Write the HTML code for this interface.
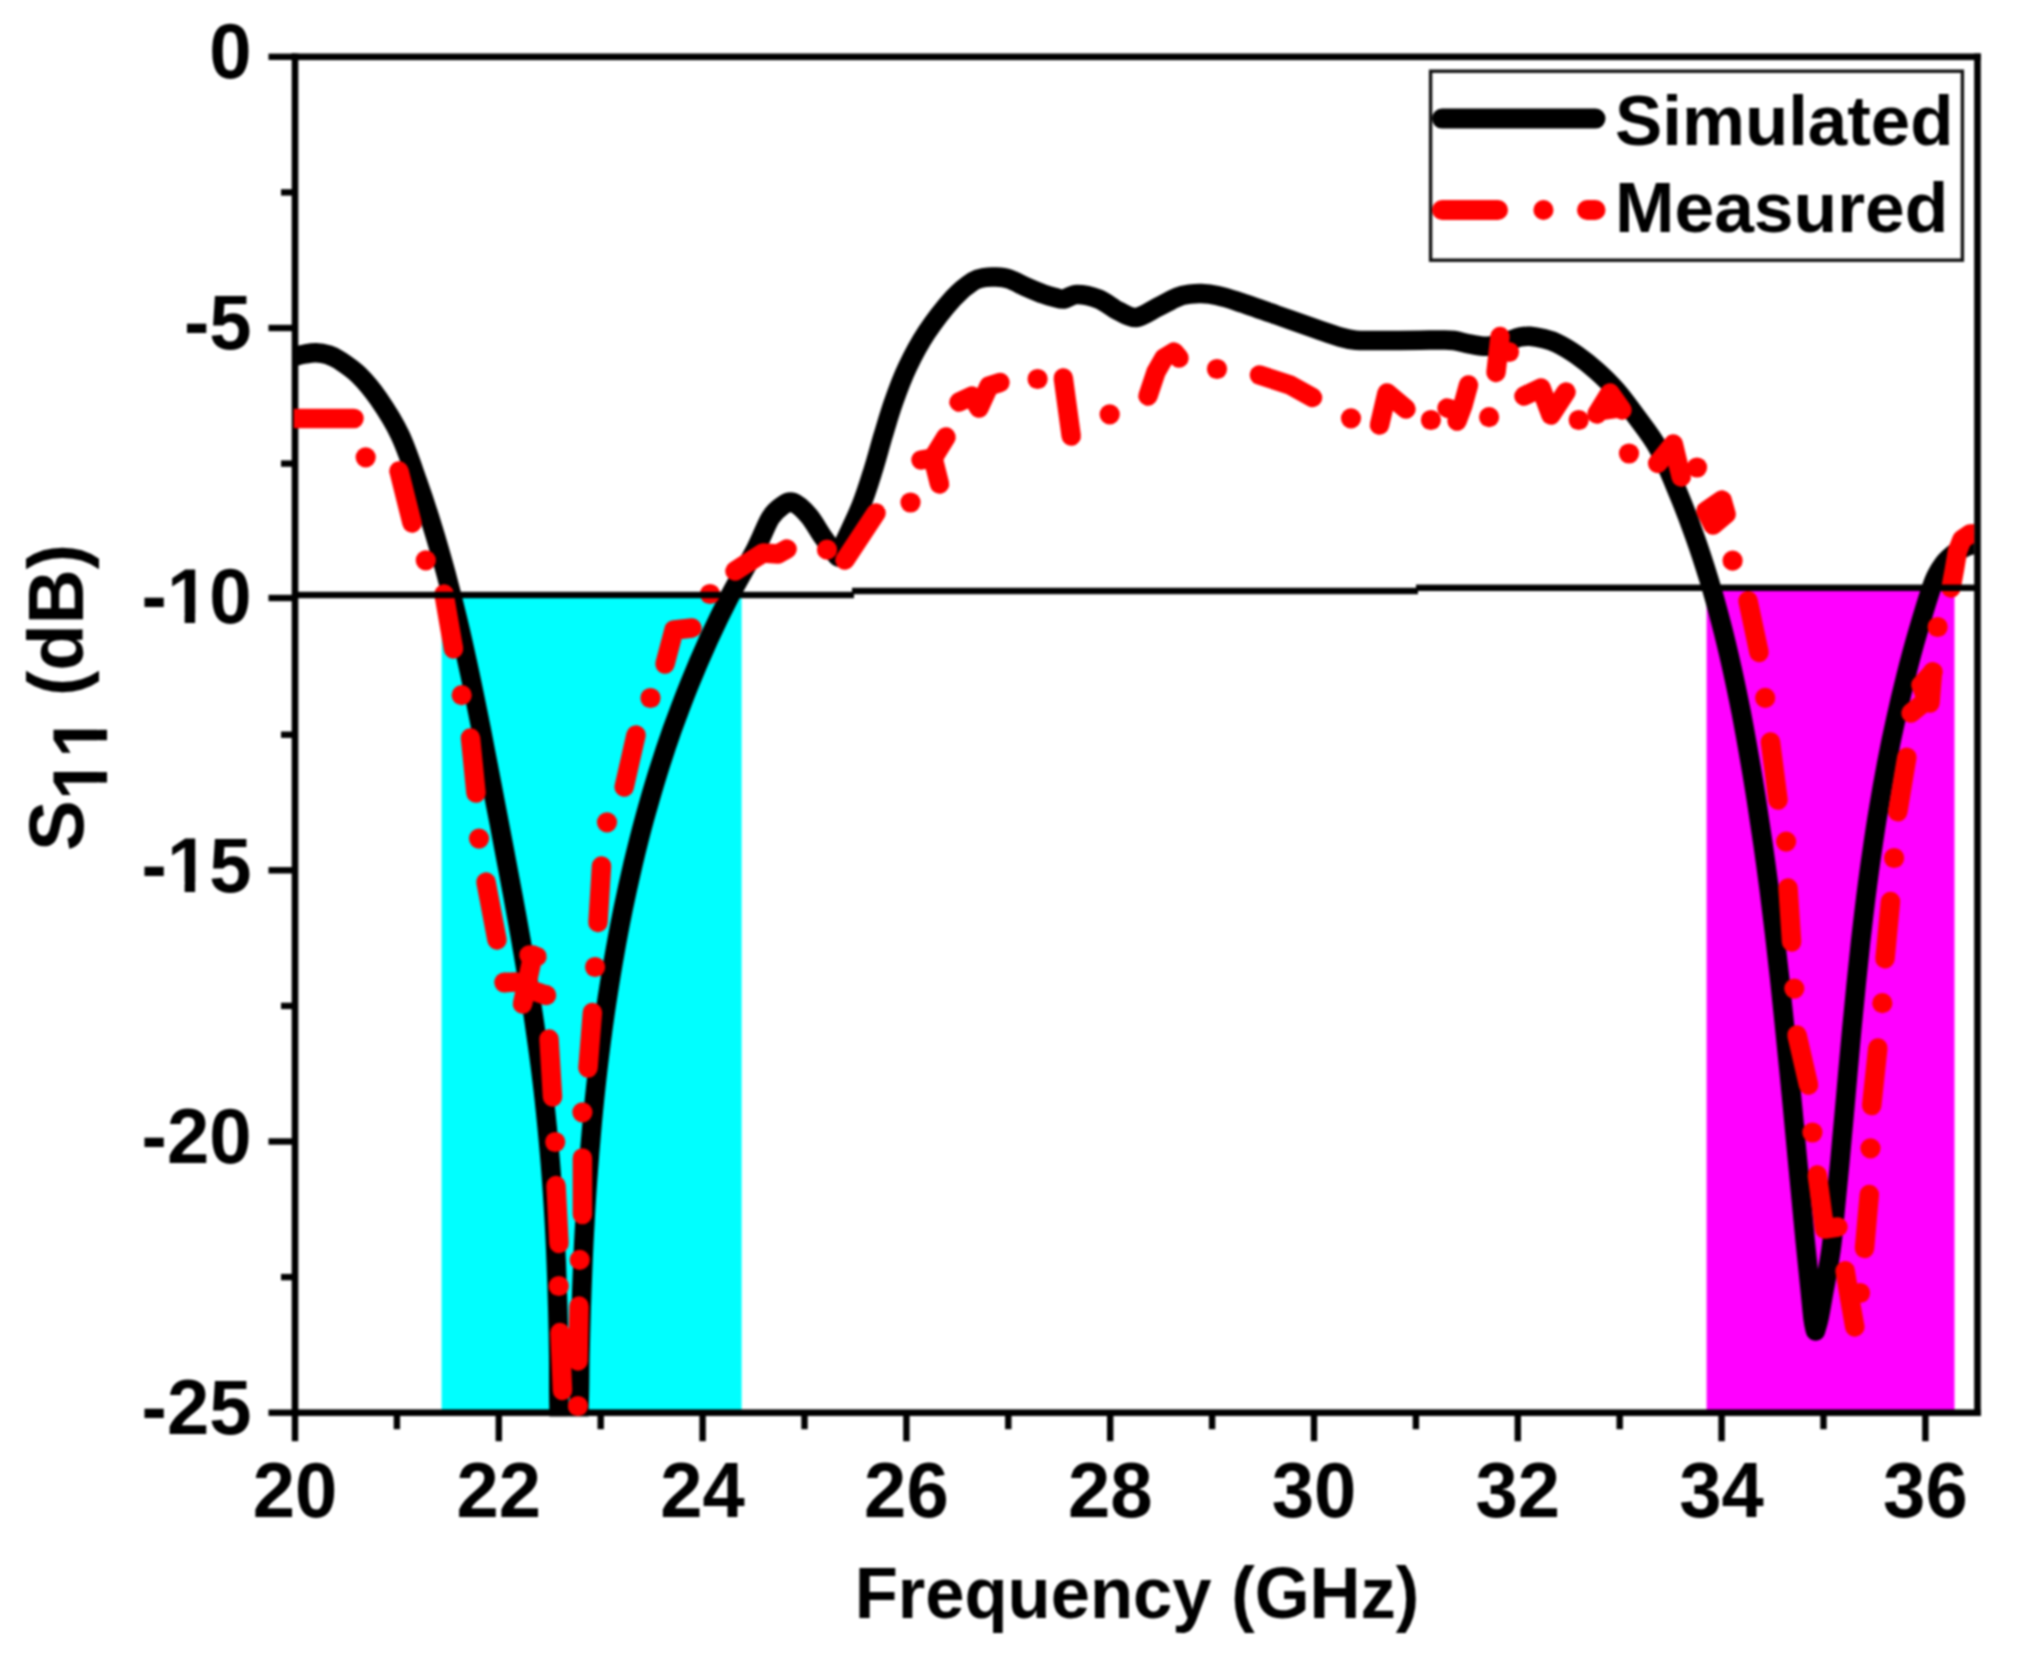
<!DOCTYPE html>
<html lang="en"><head><meta charset="utf-8"><title>S11 simulated vs measured</title>
<style>html,body{margin:0;padding:0;background:#fff}body{width:2030px;height:1653px;overflow:hidden}svg{display:block;filter:blur(0.8px)}</style></head>
<body>
<svg width="2030" height="1653" viewBox="0 0 2030 1653">
<defs><clipPath id="plot"><rect x="293.8" y="60.1" width="1680.4" height="1356.5"/></clipPath></defs>
<rect width="2030" height="1653" fill="#fff"/>
<rect x="441.6" y="596.5" width="300.0" height="816.2" fill="#00ffff"/>
<rect x="1706.6" y="590.5" width="247.9" height="822.2" fill="#ff00ff"/>
<g fill="#000">
<rect x="291.7" y="53.5" width="1689.1" height="6.6"/>
<rect x="291.7" y="1409.4" width="1689.1" height="6.6"/>
<rect x="291.7" y="53.5" width="6.6" height="1362.5"/>
<rect x="1974.2" y="53.5" width="6.6" height="1362.5"/>
<rect x="291.8" y="1412.7" width="6.4" height="28.5"/>
<rect x="393.7" y="1412.7" width="6.4" height="16.5"/>
<rect x="495.6" y="1412.7" width="6.4" height="28.5"/>
<rect x="597.5" y="1412.7" width="6.4" height="16.5"/>
<rect x="699.4" y="1412.7" width="6.4" height="28.5"/>
<rect x="801.3" y="1412.7" width="6.4" height="16.5"/>
<rect x="903.2" y="1412.7" width="6.4" height="28.5"/>
<rect x="1005.1" y="1412.7" width="6.4" height="16.5"/>
<rect x="1107.0" y="1412.7" width="6.4" height="28.5"/>
<rect x="1208.9" y="1412.7" width="6.4" height="16.5"/>
<rect x="1310.8" y="1412.7" width="6.4" height="28.5"/>
<rect x="1412.7" y="1412.7" width="6.4" height="16.5"/>
<rect x="1514.6" y="1412.7" width="6.4" height="28.5"/>
<rect x="1616.5" y="1412.7" width="6.4" height="16.5"/>
<rect x="1718.4" y="1412.7" width="6.4" height="28.5"/>
<rect x="1820.3" y="1412.7" width="6.4" height="16.5"/>
<rect x="1922.2" y="1412.7" width="6.4" height="28.5"/>
<rect x="268.5" y="53.6" width="26.5" height="6.4"/>
<rect x="281.0" y="189.2" width="14.0" height="6.4"/>
<rect x="268.5" y="324.8" width="26.5" height="6.4"/>
<rect x="281.0" y="460.4" width="14.0" height="6.4"/>
<rect x="268.5" y="594.8" width="26.5" height="6.4"/>
<rect x="281.0" y="731.5" width="14.0" height="6.4"/>
<rect x="268.5" y="867.1" width="26.5" height="6.4"/>
<rect x="281.0" y="1002.7" width="14.0" height="6.4"/>
<rect x="268.5" y="1138.3" width="26.5" height="6.4"/>
<rect x="281.0" y="1273.9" width="14.0" height="6.4"/>
<rect x="268.5" y="1409.5" width="26.5" height="6.4"/>
</g>
<g clip-path="url(#plot)" fill="none" stroke-linecap="round" stroke-linejoin="round">
<path d="M283.0 360.0 C285.0 359.4 291.3 357.3 295.0 356.3 C298.7 355.3 301.5 354.6 305.0 354.0 C308.5 353.4 312.2 352.7 316.0 352.8 C319.8 352.9 324.2 353.6 328.0 354.8 C331.8 356.0 333.9 356.6 339.0 360.0 C344.1 363.4 352.2 368.5 358.8 375.0 C365.4 381.5 371.6 388.8 378.5 398.8 C385.4 408.8 393.5 421.3 400.0 435.0 C406.5 448.7 412.0 465.7 417.4 481.0 C422.9 496.4 427.9 511.7 432.6 527.1 C437.3 542.4 441.7 557.8 445.9 573.1 C450.0 588.5 453.9 603.8 457.6 619.2 C461.3 634.5 464.7 649.9 468.0 665.2 C471.4 680.6 474.5 695.9 477.6 711.3 C480.7 726.6 483.7 742.0 486.6 757.3 C489.6 772.7 492.5 788.0 495.4 803.4 C498.4 818.7 501.3 834.1 504.2 849.4 C507.1 864.8 510.0 880.1 512.9 895.5 C515.7 910.8 518.5 926.2 521.2 941.5 C523.8 956.9 526.5 972.2 528.9 987.6 C531.4 1002.9 533.8 1018.3 535.9 1033.6 C538.1 1049.0 540.2 1064.3 542.0 1079.7 C543.9 1095.0 545.5 1110.4 547.0 1125.7 C548.5 1141.1 549.9 1156.4 551.0 1171.8 C552.2 1187.1 553.2 1202.5 554.1 1217.8 C555.0 1233.2 555.7 1248.5 556.3 1263.9 C556.9 1279.2 557.4 1294.6 557.8 1309.9 C558.2 1325.3 558.5 1340.6 558.7 1356.0 C558.8 1371.3 558.6 1384.7 558.9 1402.0 C559.3 1419.3 559.3 1443.7 561.0 1460.0 C562.7 1476.3 566.3 1500.0 569.0 1500.0 C571.7 1500.0 575.3 1476.3 577.0 1460.0 C578.7 1443.7 578.7 1419.1 579.2 1402.0 C579.7 1384.9 579.6 1372.1 579.9 1357.1 C580.3 1342.2 580.6 1327.2 581.1 1312.3 C581.5 1297.3 582.1 1282.4 582.7 1267.4 C583.3 1252.5 584.0 1237.5 584.9 1222.6 C585.7 1207.6 586.6 1192.7 587.7 1177.7 C588.8 1162.8 590.0 1147.8 591.3 1132.9 C592.6 1117.9 594.1 1102.9 595.7 1088.0 C597.3 1073.0 599.1 1058.1 601.0 1043.1 C602.9 1028.2 605.0 1013.2 607.3 998.3 C609.6 983.3 612.0 968.4 614.7 953.4 C617.3 938.5 620.2 923.5 623.2 908.6 C626.3 893.6 629.6 878.7 633.1 863.7 C636.7 848.8 640.4 833.8 644.5 818.8 C648.6 803.9 652.9 788.9 657.5 774.0 C662.2 759.0 667.1 744.1 672.4 729.1 C677.8 714.2 683.4 699.2 689.4 684.3 C695.5 669.3 701.9 654.4 708.7 639.4 C715.6 624.5 722.9 609.5 730.6 594.6 C738.4 579.6 748.8 562.4 755.4 549.7 C762.0 537.0 765.8 525.6 770.2 518.3 C774.6 511.0 778.2 508.6 782.0 506.0 C785.8 503.4 788.7 500.9 793.2 502.5 C797.7 504.1 803.9 510.0 808.9 515.9 C813.9 521.8 818.5 530.8 823.4 537.6 C828.2 544.5 835.6 553.8 838.0 557.0 C839.3 554.2 841.7 548.6 845.5 540.0 C849.4 531.4 856.6 517.0 861.2 505.4 C865.8 493.9 869.3 482.4 872.9 470.9 C876.5 459.4 879.5 447.8 882.9 436.3 C886.4 424.8 889.6 413.3 893.7 401.8 C897.7 390.3 901.9 378.7 907.4 367.2 C912.9 355.7 918.9 344.2 926.5 332.7 C934.2 321.1 945.5 306.7 953.3 298.1 C961.1 289.5 968.1 284.5 973.4 281.1 C978.7 277.7 981.4 278.2 985.0 277.5 C988.6 276.8 991.2 276.8 995.2 277.0 C999.2 277.2 1003.8 277.3 1009.0 279.0 C1014.2 280.7 1020.9 284.7 1026.7 287.2 C1032.5 289.7 1038.9 292.5 1043.6 294.2 C1048.3 295.9 1051.6 296.7 1055.0 297.5 C1058.4 298.3 1060.3 299.5 1064.0 299.0 C1067.7 298.5 1071.2 294.5 1077.0 294.5 C1082.8 294.5 1091.9 296.4 1098.8 299.1 C1105.7 301.9 1112.2 307.9 1118.5 311.0 C1124.8 314.1 1129.7 318.2 1136.3 317.5 C1142.9 316.8 1151.1 310.4 1158.0 307.0 C1164.9 303.6 1172.3 299.2 1177.6 297.1 C1182.9 295.0 1186.0 294.8 1190.0 294.2 C1194.0 293.6 1196.8 293.3 1201.3 293.5 C1205.8 293.7 1211.1 294.2 1217.0 295.5 C1222.9 296.8 1226.8 297.9 1236.7 301.1 C1246.6 304.3 1263.1 310.3 1276.2 314.9 C1289.3 319.5 1305.0 325.0 1315.6 328.7 C1326.2 332.4 1333.3 335.1 1340.0 337.0 C1346.7 338.9 1349.3 339.7 1356.0 340.3 C1362.7 340.9 1369.3 340.5 1380.0 340.5 C1390.7 340.5 1410.0 340.3 1420.0 340.2 C1430.0 340.1 1434.3 339.9 1440.0 340.0 C1445.7 340.1 1449.0 339.8 1454.0 340.5 C1459.0 341.2 1464.6 343.2 1470.3 344.2 C1476.0 345.1 1482.2 346.6 1488.0 346.2 C1493.8 345.8 1499.7 343.5 1505.0 342.0 C1510.3 340.5 1515.8 337.9 1520.0 337.0 C1524.2 336.1 1526.2 336.1 1530.0 336.3 C1533.8 336.6 1538.5 337.4 1543.0 338.5 C1547.5 339.6 1551.4 340.4 1557.0 343.2 C1562.6 345.9 1570.1 350.4 1576.7 355.0 C1583.3 359.6 1589.9 364.9 1596.5 370.8 C1603.1 376.7 1609.6 382.9 1616.2 390.5 C1622.8 398.1 1629.0 406.6 1635.9 416.1 C1642.8 425.6 1650.8 435.0 1657.8 447.6 C1664.8 460.2 1671.5 477.0 1677.6 491.7 C1683.8 506.4 1689.4 521.2 1694.6 535.9 C1699.9 550.6 1704.6 565.3 1709.1 580.0 C1713.6 594.7 1717.6 609.4 1721.4 624.1 C1725.3 638.9 1728.7 653.6 1732.0 668.3 C1735.3 683.0 1738.3 697.7 1741.2 712.4 C1744.0 727.1 1746.7 741.8 1749.2 756.6 C1751.8 771.3 1754.2 786.0 1756.5 800.7 C1758.8 815.4 1761.0 830.1 1763.1 844.8 C1765.2 859.5 1767.2 874.3 1769.1 889.0 C1771.0 903.7 1772.7 918.4 1774.5 933.1 C1776.2 947.8 1777.9 962.5 1779.5 977.2 C1781.1 992.0 1782.6 1006.7 1784.1 1021.4 C1785.6 1036.1 1787.1 1050.8 1788.5 1065.5 C1790.0 1080.2 1791.4 1094.9 1792.8 1109.7 C1794.1 1124.4 1795.5 1139.1 1796.9 1153.8 C1798.3 1168.5 1799.7 1183.2 1801.1 1197.9 C1802.5 1212.6 1803.9 1227.4 1805.3 1242.1 C1806.8 1256.8 1808.5 1273.5 1809.8 1286.2 C1811.1 1298.9 1812.1 1310.5 1813.0 1318.0 C1813.9 1325.5 1815.1 1328.8 1815.5 1331.0 C1816.1 1328.8 1817.8 1323.8 1819.0 1318.0 C1820.2 1312.2 1821.0 1307.3 1823.0 1296.0 C1825.0 1284.7 1828.9 1265.0 1831.0 1250.0 C1833.1 1235.0 1834.1 1220.6 1835.6 1205.8 C1837.1 1191.1 1838.5 1176.4 1839.9 1161.7 C1841.2 1147.0 1842.5 1132.2 1843.9 1117.5 C1845.2 1102.8 1846.5 1088.1 1847.8 1073.4 C1849.1 1058.6 1850.4 1043.9 1851.8 1029.2 C1853.2 1014.5 1854.6 999.8 1856.1 985.0 C1857.5 970.3 1859.1 955.6 1860.7 940.9 C1862.4 926.2 1864.1 911.4 1865.9 896.7 C1867.8 882.0 1869.7 867.3 1871.9 852.6 C1874.0 837.8 1876.2 823.1 1878.7 808.4 C1881.1 793.7 1883.7 779.0 1886.5 764.2 C1889.3 749.5 1892.3 734.8 1895.6 720.1 C1898.8 705.4 1902.3 690.6 1906.0 675.9 C1909.7 661.2 1913.6 646.5 1917.9 631.8 C1922.2 617.0 1928.2 597.3 1931.5 587.6 C1934.8 577.9 1935.5 577.4 1937.5 573.5 C1939.5 569.6 1941.5 566.7 1943.5 564.0 C1945.5 561.3 1947.4 559.5 1949.5 557.5 C1951.6 555.5 1953.6 553.9 1956.0 552.3 C1958.4 550.7 1961.3 549.0 1964.0 547.8 C1966.7 546.5 1967.3 545.6 1972.0 544.8 C1976.7 544.0 1988.7 543.3 1992.0 543.0" stroke="#000" stroke-width="19.5"/>
<g stroke="#ff0000" stroke-width="19.5">
<polyline points="292.0,418.5 354.0,418.5"/>
<polyline points="399.0,471.0 412.0,523.0"/>
<polyline points="444.0,594.0 453.5,649.0"/>
<polyline points="470.5,738.0 476.0,793.0"/>
<polyline points="486.0,882.0 497.0,940.0"/>
<polyline points="533.0,955.0 522.5,1004.0"/>
<polyline points="529.0,955.0 537.0,956.5"/>
<polyline points="504.4,982.5 516.0,982.0"/>
<polyline points="546.1,995.2 534.0,991.0"/>
<polyline points="549.0,1039.0 552.5,1097.0"/>
<polyline points="556.0,1185.5 559.0,1243.5"/>
<polyline points="560.0,1332.5 562.5,1390.5"/>
<polyline points="579.0,1306.0 578.0,1361.0"/>
<polyline points="582.4,1158.0 582.4,1214.5"/>
<polyline points="592.4,1012.5 588.0,1068.0"/>
<polyline points="601.5,866.0 598.0,922.5"/>
<polyline points="636.0,735.0 624.2,787.0"/>
<polyline points="665.0,664.0 674.0,630.0 692.0,628.0"/>
<polyline points="735.0,571.0 763.0,553.0 778.0,554.0 787.0,549.0"/>
<polyline points="845.0,560.0 876.0,513.0"/>
<polyline points="939.5,484.0 933.0,458.0 921.0,460.0"/>
<polyline points="933.0,458.0 946.0,437.0"/>
<polyline points="959.0,402.0 972.0,396.0 979.0,408.0 989.0,386.0 1000.0,382.5"/>
<polyline points="1063.3,378.0 1071.2,436.0"/>
<polyline points="1148.0,396.0 1156.0,372.0 1164.0,358.0 1174.0,352.0 1179.0,358.0"/>
<polyline points="1259.5,375.0 1290.0,385.0 1312.5,397.5"/>
<polyline points="1379.5,425.0 1387.0,393.0 1406.0,409.0"/>
<polyline points="1468.5,385.0 1463.0,405.0 1457.0,421.0"/>
<polyline points="1447.0,408.0 1460.0,412.0"/>
<polyline points="1496.0,372.5 1500.0,336.5"/>
<polyline points="1524.0,396.0 1541.0,388.0 1551.0,415.0 1566.0,392.0"/>
<polyline points="1597.0,414.0 1610.0,393.0 1622.0,410.0"/>
<polyline points="1657.7,463.4 1673.3,444.0 1681.2,477.0"/>
<polyline points="1706.0,511.0 1722.0,500.0 1726.0,514.0 1713.0,525.0 1706.0,511.0"/>
<polyline points="1748.0,600.7 1759.0,652.4"/>
<polyline points="1770.5,742.0 1778.0,800.0"/>
<polyline points="1788.0,888.0 1791.6,942.0"/>
<polyline points="1797.0,1035.0 1808.5,1085.0"/>
<polyline points="1817.3,1175.0 1824.5,1229.0 1838.0,1227.0"/>
<polyline points="1845.1,1270.8 1850.0,1300.0 1854.8,1327.0"/>
<polyline points="1869.3,1194.5 1864.5,1248.4"/>
<polyline points="1877.8,1048.0 1871.7,1105.6"/>
<polyline points="1890.5,901.5 1885.0,958.7"/>
<polyline points="1906.8,757.3 1897.8,811.7"/>
<polyline points="1911.0,713.0 1927.0,700.0 1921.0,685.0 1933.0,672.0"/>
<polyline points="1951.0,588.0 1954.5,569.0 1957.5,551.0 1962.0,539.5 1970.0,534.0 1990.0,533.0"/>
<polyline points="1932.5,672.0 1930.0,703.0"/>
<polyline points="1604.0,410.0 1618.0,408.0"/>
</g>
<g fill="#ff0000" stroke="none">
<circle cx="365.7" cy="457.3" r="10.1"/>
<circle cx="425.8" cy="560.4" r="10.1"/>
<circle cx="461.7" cy="695.2" r="10.1"/>
<circle cx="479.0" cy="838.6" r="10.1"/>
<circle cx="504.4" cy="982.5" r="10.1"/>
<circle cx="546.1" cy="995.2" r="10.1"/>
<circle cx="555.2" cy="1142.0" r="10.1"/>
<circle cx="558.8" cy="1286.0" r="10.1"/>
<circle cx="577.9" cy="1406.0" r="10.1"/>
<circle cx="579.7" cy="1259.8" r="10.1"/>
<circle cx="582.4" cy="1112.3" r="10.1"/>
<circle cx="595.1" cy="967.0" r="10.1"/>
<circle cx="607.0" cy="822.3" r="10.1"/>
<circle cx="650.5" cy="698.0" r="10.1"/>
<circle cx="710.0" cy="594.0" r="10.1"/>
<circle cx="827.0" cy="549.7" r="10.1"/>
<circle cx="910.5" cy="502.5" r="10.1"/>
<circle cx="1037.6" cy="379.0" r="10.1"/>
<circle cx="1109.7" cy="414.4" r="10.1"/>
<circle cx="1217.0" cy="369.0" r="10.1"/>
<circle cx="1351.0" cy="418.3" r="10.1"/>
<circle cx="1430.9" cy="420.0" r="10.1"/>
<circle cx="1489.1" cy="417.1" r="10.1"/>
<circle cx="1509.0" cy="352.0" r="10.1"/>
<circle cx="1578.7" cy="420.0" r="10.1"/>
<circle cx="1629.0" cy="453.5" r="10.1"/>
<circle cx="1697.0" cy="467.5" r="10.1"/>
<circle cx="1732.6" cy="560.7" r="10.1"/>
<circle cx="1765.2" cy="697.8" r="10.1"/>
<circle cx="1786.1" cy="841.6" r="10.1"/>
<circle cx="1794.3" cy="988.6" r="10.1"/>
<circle cx="1812.4" cy="1132.5" r="10.1"/>
<circle cx="1860.0" cy="1293.0" r="10.1"/>
<circle cx="1870.5" cy="1148.3" r="10.1"/>
<circle cx="1882.3" cy="1003.2" r="10.1"/>
<circle cx="1894.1" cy="858.0" r="10.1"/>
<circle cx="1937.6" cy="627.0" r="10.1"/>
</g>
</g>
<rect x="295.0" y="591.8" width="559.0" height="6.4" fill="#000"/>
<rect x="852.0" y="587.8" width="566.0" height="6.4" fill="#000"/>
<rect x="1416.0" y="584.6" width="561.5" height="6.4" fill="#000"/>
<rect x="1430.6" y="71.2" width="531.8" height="189.0" fill="#fff" stroke="#111" stroke-width="3.4"/>
<line x1="1442" y1="118.6" x2="1595.5" y2="118.6" stroke="#000" stroke-width="20" stroke-linecap="round"/>
<g stroke="#ff0000" stroke-width="20" stroke-linecap="round">
<line x1="1442" y1="210" x2="1498" y2="210"/>
<line x1="1543.4" y1="210" x2="1543.5" y2="210"/>
<line x1="1587" y1="210" x2="1595.5" y2="210"/>
</g>
<g font-family="'Liberation Sans', Arial, Helvetica, sans-serif" font-weight="bold" fill="#000" style="font-kerning:none">
<text transform="translate(1615.0 144.6) scale(1.0120 1)" font-size="70.0" text-anchor="start">Simulated</text>
<text transform="translate(1615.0 231.6) scale(1.0200 1)" font-size="70.0" text-anchor="start">Measured</text>
<text transform="translate(295.0 1517.0) scale(0.9750 1)" font-size="78.0" text-anchor="middle">20</text>
<text transform="translate(498.8 1517.0) scale(0.9750 1)" font-size="78.0" text-anchor="middle">22</text>
<text transform="translate(702.6 1517.0) scale(0.9750 1)" font-size="78.0" text-anchor="middle">24</text>
<text transform="translate(906.4 1517.0) scale(0.9750 1)" font-size="78.0" text-anchor="middle">26</text>
<text transform="translate(1110.2 1517.0) scale(0.9750 1)" font-size="78.0" text-anchor="middle">28</text>
<text transform="translate(1314.0 1517.0) scale(0.9750 1)" font-size="78.0" text-anchor="middle">30</text>
<text transform="translate(1517.8 1517.0) scale(0.9750 1)" font-size="78.0" text-anchor="middle">32</text>
<text transform="translate(1721.6 1517.0) scale(0.9750 1)" font-size="78.0" text-anchor="middle">34</text>
<text transform="translate(1925.4 1517.0) scale(0.9750 1)" font-size="78.0" text-anchor="middle">36</text>
<text transform="translate(251.5 78.1) scale(0.9750 1)" font-size="78.0" text-anchor="end">0</text>
<text transform="translate(251.5 349.3) scale(0.9750 1)" font-size="78.0" text-anchor="end">-5</text>
<text transform="translate(251.5 623.2) scale(0.9750 1)" font-size="78.0" text-anchor="end">-10</text>
<g transform="translate(251.5 623.2) scale(0.9750 1)"><rect x="-84.03" y="-9.36" width="15.48" height="11.31" fill="#fff"/><rect x="-57.85" y="-9.36" width="14.38" height="11.31" fill="#fff"/></g>
<text transform="translate(251.5 891.6) scale(0.9750 1)" font-size="78.0" text-anchor="end">-15</text>
<g transform="translate(251.5 891.6) scale(0.9750 1)"><rect x="-84.03" y="-9.36" width="15.48" height="11.31" fill="#fff"/><rect x="-57.85" y="-9.36" width="14.38" height="11.31" fill="#fff"/></g>
<text transform="translate(251.5 1162.8) scale(0.9750 1)" font-size="78.0" text-anchor="end">-20</text>
<text transform="translate(251.5 1434.0) scale(0.9750 1)" font-size="78.0" text-anchor="end">-25</text>
<text transform="translate(1137.0 1617.6) scale(0.9670 1)" font-size="73.0" text-anchor="middle">Frequency (GHz)</text>
<text transform="translate(82.5 851) rotate(-90) scale(0.9750 1)" font-size="78.0">S<tspan dy="24.5">11</tspan><tspan dy="-24.5" dx="-1.5"> (dB)</tspan></text>
<g transform="translate(82.5 851) rotate(-90) scale(0.9750 1)"><rect x="54.76" y="15.14" width="15.48" height="11.31" fill="#fff"/><rect x="80.93" y="15.14" width="14.38" height="11.31" fill="#fff"/><rect x="98.14" y="15.14" width="15.48" height="11.31" fill="#fff"/><rect x="124.31" y="15.14" width="14.38" height="11.31" fill="#fff"/></g>
</g>
</svg>
</body></html>
